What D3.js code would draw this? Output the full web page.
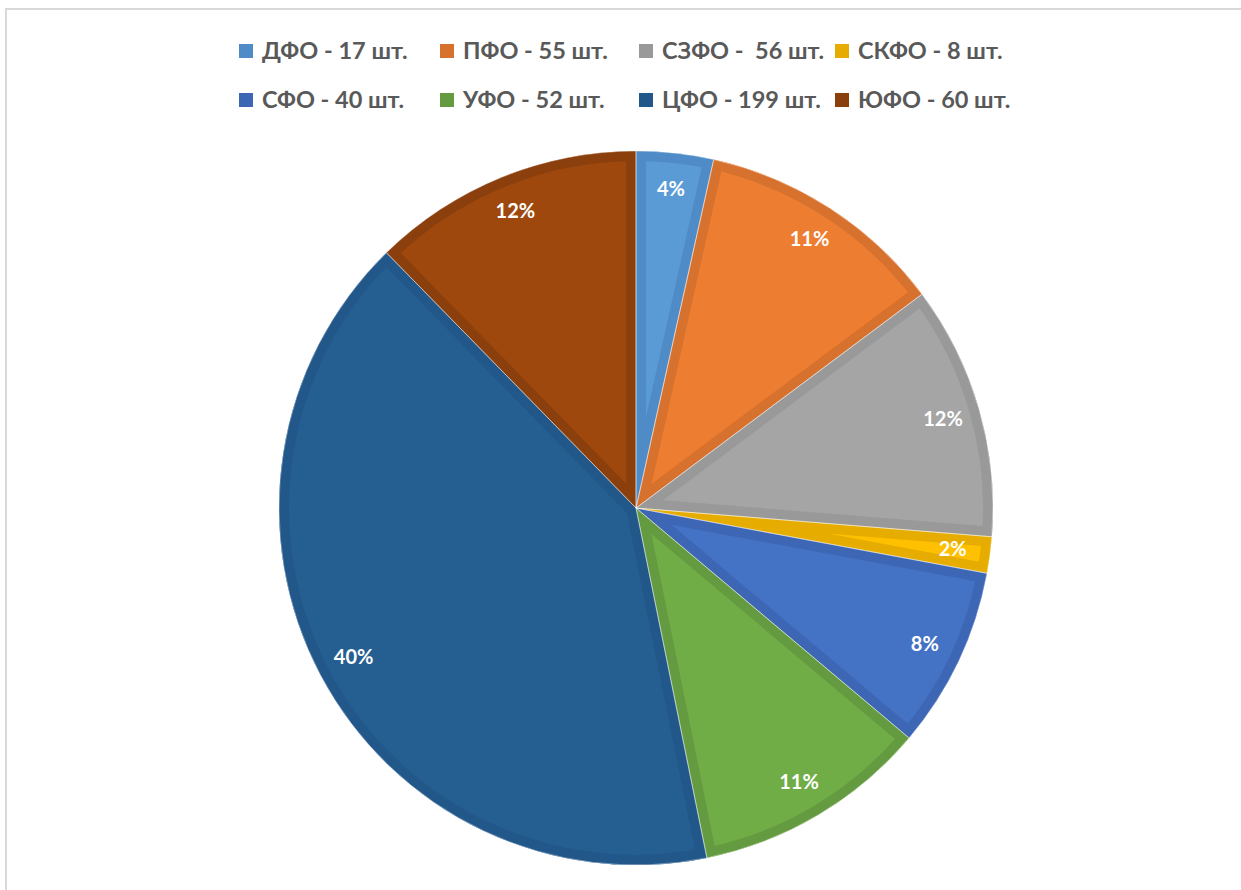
<!DOCTYPE html>
<html>
<head>
<meta charset="utf-8">
<script src="https://cdnjs.cloudflare.com/ajax/libs/d3/7.8.5/d3.min.js"></script>
<style>
  body { margin: 0; background: #fff; }
  svg text { font-family: Lato, "Open Sans", sans-serif; font-weight: bold; white-space: pre; }
</style>
</head>
<body>
<div id="chart"></div>
<script>
// Districts, clockwise from 12 o'clock
const districts = ["ДФО", "ПФО", "СЗФО", "СКФО", "СФО", "УФО", "ЦФО", "ЮФО"];
const counts = [17, 55, 56, 8, 40, 52, 199, 60];
const legendLabels = ["ДФО - 17 шт.", "ПФО - 55 шт.", "СЗФО -  56 шт.", "СКФО - 8 шт.",
                      "СФО - 40 шт.", "УФО - 52 шт.", "ЦФО - 199 шт.", "ЮФО - 60 шт."];
const pctLabels = ["4%", "11%", "12%", "2%", "8%", "11%", "40%", "12%"];
const fills = ["#5B9BD5", "#ED7D31", "#A5A5A5", "#FFC000", "#4472C4", "#70AD47", "#255E91", "#9E480E"];
const borders = ["#4F8BC7", "#D7712E", "#999999", "#E6AD00", "#3D67B5", "#659B40", "#22578A", "#8A3F0D"];

const width = 1241, height = 890;
const cx = 636, cy = 508, radius = 357;

const svg = d3.select("#chart").append("svg")
    .attr("width", width)
    .attr("height", height);

// light chart frame
svg.append("rect")
    .attr("x", 6).attr("y", 9)
    .attr("width", width + 10).attr("height", height + 10)
    .attr("fill", "none")
    .attr("stroke", "#d9d9d9")
    .attr("stroke-width", 2);

const color = d3.scaleOrdinal().domain(districts).range(fills);
const borderColor = d3.scaleOrdinal().domain(districts).range(borders);

const pie = d3.pie().sort(null).value(d => d.count);
const data = districts.map((name, i) => ({ name, count: counts[i], pct: pctLabels[i] }));
const arcs = pie(data);

const arc = d3.arc().innerRadius(0).outerRadius(radius);
const labelArc = d3.arc().innerRadius(radius * 0.895).outerRadius(radius * 0.895);

const g = svg.append("g").attr("transform", `translate(${cx},${cy})`);
const defs = svg.append("defs");

arcs.forEach((a, i) => {
    defs.append("clipPath")
        .attr("id", "clip" + i)
        .append("path")
        .attr("d", arc(a));
});

// slices
g.selectAll("path.slice")
    .data(arcs)
    .enter()
    .append("path")
    .attr("class", "slice")
    .attr("d", arc)
    .attr("fill", d => color(d.data.name));

// inner darker border
g.selectAll("path.border")
    .data(arcs)
    .enter()
    .append("path")
    .attr("class", "border")
    .attr("d", arc)
    .attr("fill", "none")
    .attr("stroke", d => borderColor(d.data.name))
    .attr("stroke-width", 20)
    .attr("stroke-linejoin", "miter")
    .attr("clip-path", (d, i) => `url(#clip${i})`);

// thin separators
g.selectAll("path.sep")
    .data(arcs)
    .enter()
    .append("path")
    .attr("class", "sep")
    .attr("d", arc)
    .attr("fill", "none")
    .attr("stroke", "#ffffff")
    .attr("stroke-opacity", 0.5)
    .attr("stroke-width", 0.8);

// percentage labels
g.selectAll("text.pct")
    .data(arcs)
    .enter()
    .append("text")
    .attr("class", "pct")
    .attr("transform", d => `translate(${labelArc.centroid(d)})`)
    .attr("text-anchor", "middle")
    .attr("dy", "0.3em")
    .attr("fill", "#ffffff")
    .style("font-size", "20px")
    .text(d => d.data.pct);

// legend
const legendX = [239, 440, 639, 835];
const legendY = [51, 100];
const legend = svg.append("g");
legendLabels.forEach((label, i) => {
    const col = i % 4, row = Math.floor(i / 4);
    const item = legend.append("g")
        .attr("transform", `translate(${legendX[col]},${legendY[row]})`);
    item.append("rect")
        .attr("x", 0).attr("y", -7)
        .attr("width", 14).attr("height", 14)
        .attr("fill", borderColor(districts[i]));
    item.append("text")
        .attr("x", 23)
        .attr("y", 0)
        .attr("dy", "0.35em")
        .attr("fill", "#595959")
        .style("font-size", "23.5px")
        .text(label);
});
</script>
</body>
</html>
